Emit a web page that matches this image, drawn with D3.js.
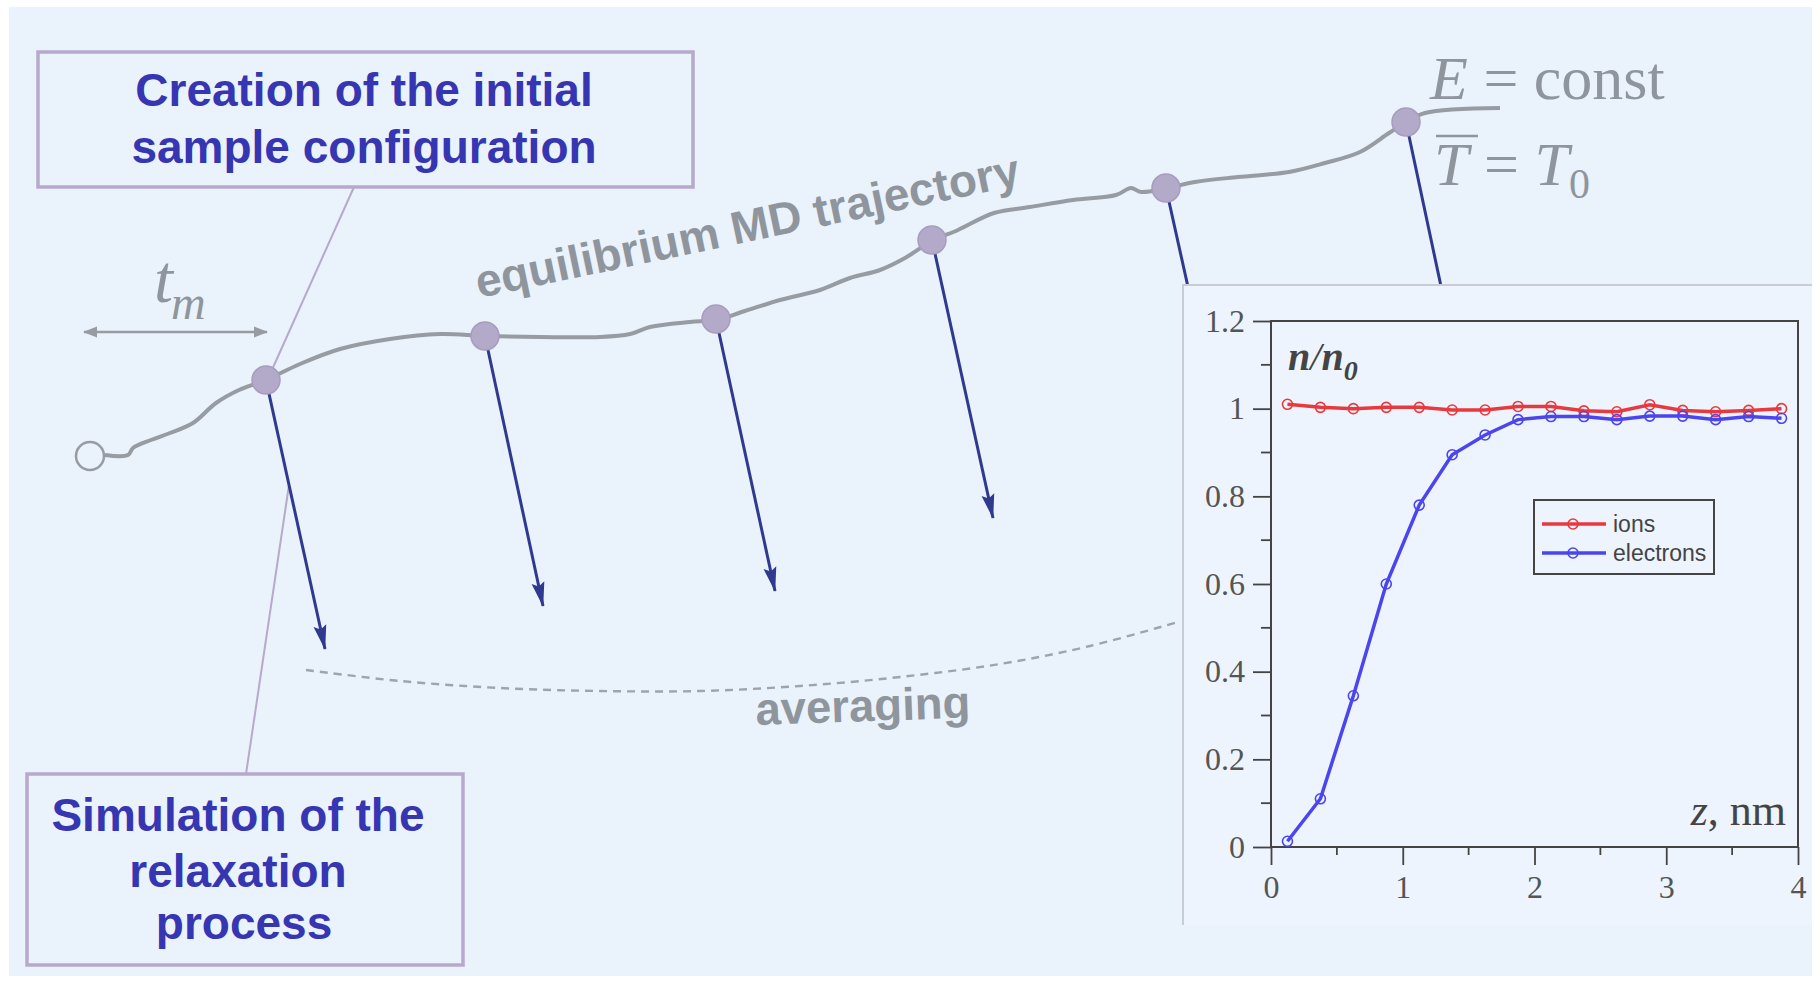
<!DOCTYPE html>
<html><head><meta charset="utf-8">
<script src="https://cdn.jsdelivr.net/npm/d3@7"></script>
<style>html,body{margin:0;padding:0;background:#fff;} svg{display:block;}</style>
</head><body>
<svg id="chart" width="1820" height="981"></svg>
<script>
// ---------- data ----------
// inset plot
const zValues = [0.125,0.375,0.625,0.875,1.125,1.375,1.625,1.875,2.125,2.375,2.625,2.875,3.125,3.375,3.625,3.875];
const ionsValues = [1.010,1.003,1.000,1.003,1.003,0.997,0.997,1.005,1.005,0.995,0.993,1.009,0.996,0.993,0.996,1.000];
const electronsValues = [0.013,0.110,0.345,0.600,0.780,0.895,0.940,0.975,0.982,0.982,0.975,0.983,0.983,0.975,0.982,0.978];
const xTickValues = [0,1,2,3,4];
const yTickValues = [0,0.2,0.4,0.6,0.8,1,1.2];
const yTickLabels = ["0","0.2","0.4","0.6","0.8","1","1.2"];
const seriesNames = ["ions","electrons"];
// diagram (trajectory in diagram units: time, level)
const trajectory = [[105,526],[128,526],[133,533],[151,541],[170,548],[193,558],[216,578],[239,591],[266,601],[300,617],[340,632],[390,642],[440,647],[485,645],[540,644],[600,644],[630,647],[650,654],[690,659],[716,661],[745,670],[780,681],[820,691],[850,703],[880,711],[905,723],[932,740],[958,751],[994,768],[1030,774],[1073,781],[1116,786],[1131,793],[1141,789],[1167,793],[1195,799],[1238,804],[1289,809],[1325,818],[1360,829],[1389,848],[1406,859],[1425,868],[1500,873]];
const startPoint = [90,525];
const samplePoints = [[266,601],[485,645],[716,662],[932,741],[1166,793],[1406,859]];
const arrowTips = [[325,332],[543,375],[775,390],[993,463],[1226,523],[1478,521]];
const averagingCurve = [[306,311],[400,300],[500,293],[600,290],[700,290],[800,295],[900,304],[1000,317],[1090,335],[1178,359]];

// ---------- setup ----------
const svg = d3.select("#chart");
const W = 1820, H = 981;
const dx = d3.scaleLinear().domain([0, W]).range([0, W]);
const dy = d3.scaleLinear().domain([0, H]).range([H, 0]);

const BG = "#EAF2FC";
const GRAY = "#979CA3";
const TEXTGRAY = "#8F959D";
const NAVY = "#2F3A8F";
const BOXC = "#B6A9CB";
const BLUE_TXT = "#3636B2";

svg.append("rect").attr("x",9).attr("y",7).attr("width",1803).attr("height",969).attr("fill",BG);

const defs = svg.append("defs");
defs.append("marker").attr("id","navyHead").attr("markerUnits","userSpaceOnUse")
  .attr("viewBox","0 -7 26 14").attr("refX",24).attr("refY",0)
  .attr("markerWidth",26).attr("markerHeight",14).attr("orient","auto")
  .append("path").attr("d","M0,-6.5L25,0L0,6.5L4,0Z").attr("fill",NAVY);
defs.append("marker").attr("id","grayHead").attr("markerUnits","userSpaceOnUse")
  .attr("viewBox","0 -7 14 14").attr("refX",13).attr("refY",0)
  .attr("markerWidth",14).attr("markerHeight",14).attr("orient","auto-start-reverse")
  .append("path").attr("d","M0,-5.5L14,0L0,5.5Z").attr("fill",GRAY);

// callout lines
svg.append("line").attr("x1",354).attr("y1",187).attr("x2",271).attr("y2",372)
  .attr("stroke",BOXC).attr("stroke-width",2);
svg.append("line").attr("x1",289).attr("y1",485).attr("x2",246).attr("y2",774)
  .attr("stroke",BOXC).attr("stroke-width",2);

// boxes
svg.append("rect").attr("x",38).attr("y",52).attr("width",655).attr("height",135)
  .attr("fill","none").attr("stroke",BOXC).attr("stroke-width",3.5);
svg.append("rect").attr("x",27).attr("y",774).attr("width",436).attr("height",191)
  .attr("fill","none").attr("stroke",BOXC).attr("stroke-width",3.5);

const boxText = (x, y, s) => svg.append("text").attr("x",x).attr("y",y)
  .attr("text-anchor","middle").attr("font-family","Liberation Sans, Arial, sans-serif")
  .attr("font-weight","bold").attr("font-size",46).attr("fill",BLUE_TXT).text(s);
boxText(364,106,"Creation of the initial");
boxText(364,163,"sample configuration");
boxText(238,831,"Simulation of the");
boxText(238,887,"relaxation");
boxText(244,939,"process");

// t_m annotation
svg.append("line").attr("x1",84).attr("y1",332).attr("x2",267).attr("y2",332)
  .attr("stroke",GRAY).attr("stroke-width",2.5)
  .attr("marker-start","url(#grayHead)").attr("marker-end","url(#grayHead)");
const tm = svg.append("text").attr("x",154).attr("y",302)
  .attr("font-family","Liberation Serif, Times New Roman, serif").attr("font-style","italic")
  .attr("fill",TEXTGRAY);
tm.append("tspan").attr("font-size",68).text("t");
tm.append("tspan").attr("font-size",48).attr("dy",17).attr("dx",-2).text("m");

// averaging curve
svg.append("path").datum(averagingCurve)
  .attr("d", d3.line().x(d=>dx(d[0])).y(d=>dy(d[1])).curve(d3.curveCatmullRom))
  .attr("fill","none").attr("stroke","#9FA4AA").attr("stroke-width",2.4).attr("stroke-dasharray","8,6");
svg.append("text").attr("transform","translate(756,725) rotate(-2)")
  .attr("font-family","Liberation Sans, Arial, sans-serif").attr("font-weight","bold")
  .attr("font-size",45.5).attr("fill",TEXTGRAY).text("averaging");

// trajectory label
svg.append("text").attr("transform","translate(479,298) rotate(-11.8)")
  .attr("font-family","Liberation Sans, Arial, sans-serif").attr("font-weight","bold")
  .attr("font-size",46).attr("fill",TEXTGRAY).text("equilibrium MD trajectory");

// arrows
svg.selectAll("line.arr").data(samplePoints).enter().append("line").attr("class","arr")
  .attr("x1",d=>dx(d[0])).attr("y1",d=>dy(d[1]))
  .attr("x2",(d,i)=>dx(arrowTips[i][0])).attr("y2",(d,i)=>dy(arrowTips[i][1]))
  .attr("stroke",NAVY).attr("stroke-width",3).attr("marker-end","url(#navyHead)");

// trajectory
svg.append("path").datum(trajectory)
  .attr("d", d3.line().x(d=>dx(d[0])).y(d=>dy(d[1])).curve(d3.curveCatmullRom))
  .attr("fill","none").attr("stroke",GRAY).attr("stroke-width",4).attr("stroke-linejoin","round");
svg.append("circle").attr("cx",dx(startPoint[0])).attr("cy",dy(startPoint[1])).attr("r",14)
  .attr("fill",BG).attr("stroke",GRAY).attr("stroke-width",2.5);
svg.selectAll("circle.sp").data(samplePoints).enter().append("circle").attr("class","sp")
  .attr("cx",d=>dx(d[0])).attr("cy",d=>dy(d[1])).attr("r",14)
  .attr("fill","#B3A9C9").attr("stroke","#A79DBE").attr("stroke-width",1.5);

// E = const, T = T0
const serif = "Liberation Serif, Times New Roman, serif";
const e1 = svg.append("text").attr("x",1430).attr("y",99).attr("font-family",serif)
  .attr("font-size",62).attr("fill",TEXTGRAY);
e1.append("tspan").attr("font-style","italic").text("E");
e1.append("tspan").text(" = const");
const e2 = svg.append("text").attr("x",1434).attr("y",185).attr("font-family",serif)
  .attr("font-size",62).attr("fill",TEXTGRAY);
e2.append("tspan").attr("font-style","italic").text("T");
e2.append("tspan").text(" = ");
e2.append("tspan").attr("font-style","italic").text("T");
e2.append("tspan").attr("font-size",42).attr("dy",13).text("0");
svg.append("line").attr("x1",1436).attr("x2",1478).attr("y1",136).attr("y2",136)
  .attr("stroke",TEXTGRAY).attr("stroke-width",2.5);

// ---------- inset ----------
svg.append("rect").attr("x",1183).attr("y",285).attr("width",629).attr("height",640).attr("fill","#EDF4FD");
svg.append("path").attr("d","M1183,925V285H1812").attr("fill","none").attr("stroke","#C8CDD5").attr("stroke-width",2);

const x = d3.scaleLinear().domain([0,4]).range([1271,1798]);
const y = d3.scaleLinear().domain([0,1.2]).range([847,321]);
const AX = "#444";
const g = svg.append("g");

// minor ticks
const yMinor = d3.range(0.1,1.2,0.2);
const xMinor = d3.range(0.5,4,1);
g.selectAll("line.ym").data(yMinor).enter().append("line")
  .attr("x1",x(0)-10).attr("x2",x(0)).attr("y1",d=>y(d)).attr("y2",d=>y(d)).attr("stroke",AX).attr("stroke-width",1.8);
g.selectAll("line.xm").data(xMinor).enter().append("line")
  .attr("x1",d=>x(d)).attr("x2",d=>x(d)).attr("y1",y(0)).attr("y2",y(0)+8).attr("stroke",AX).attr("stroke-width",1.8);

const yAxis = d3.axisLeft(y).tickValues(yTickValues).tickFormat((d,i)=>yTickLabels[i]).tickSize(18).tickPadding(8);
const xAxis = d3.axisBottom(x).tickValues(xTickValues).tickFormat(d3.format("d")).tickSize(18).tickPadding(10);
const ya = g.append("g").attr("transform",`translate(${x(0)},0)`).call(yAxis);
const xa = g.append("g").attr("transform",`translate(0,${y(0)})`).call(xAxis);
[ya,xa].forEach(a=>{
  a.select(".domain").remove();
  a.selectAll(".tick line").attr("stroke",AX).attr("stroke-width",1.8);
  a.selectAll(".tick text").attr("font-family",serif).attr("font-size",32).attr("fill","#555");
});
// frame
g.append("rect").attr("x",x(0)).attr("y",y(1.2)).attr("width",x(4)-x(0)).attr("height",y(0)-y(1.2))
  .attr("fill","none").attr("stroke",AX).attr("stroke-width",2);

const colors = {ions:"#E8393E", electrons:"#4B45F0"};
const seriesData = {ions: ionsValues, electrons: electronsValues};
const line = d3.line().x(d=>x(d[0])).y(d=>y(d[1]));
seriesNames.forEach(name=>{
  const pts = zValues.map((z,i)=>[z, seriesData[name][i]]);
  g.append("path").datum(pts).attr("d",line).attr("fill","none").attr("stroke",colors[name]).attr("stroke-width",3.5);
  g.selectAll("circle."+name).data(pts).enter().append("circle").attr("class",name)
    .attr("cx",d=>x(d[0])).attr("cy",d=>y(d[1])).attr("r",5).attr("fill","none")
    .attr("stroke",colors[name]).attr("stroke-width",1.6);
});

// axis labels
const nl = g.append("text").attr("x",1288).attr("y",370).attr("font-family",serif)
  .attr("font-style","italic").attr("font-weight","bold").attr("font-size",40).attr("fill","#444");
nl.append("tspan").text("n");
nl.append("tspan").attr("font-weight","normal").text("/");
nl.append("tspan").text("n");
nl.append("tspan").attr("font-size",28).attr("dy",10).text("0");
const zl = g.append("text").attr("x",1786).attr("y",825).attr("text-anchor","end").attr("font-family",serif)
  .attr("font-size",44).attr("fill","#444");
zl.append("tspan").attr("font-style","italic").text("z");
zl.append("tspan").text(", nm");

// legend
const lg = g.append("g");
lg.append("rect").attr("x",1534).attr("y",500).attr("width",180).attr("height",74)
  .attr("fill","none").attr("stroke",AX).attr("stroke-width",2);
seriesNames.forEach((name,i)=>{
  const yy = 524 + i*29;
  lg.append("line").attr("x1",1542).attr("x2",1606).attr("y1",yy).attr("y2",yy).attr("stroke",colors[name]).attr("stroke-width",3.5);
  lg.append("circle").attr("cx",1573).attr("cy",yy).attr("r",5).attr("fill","none").attr("stroke",colors[name]).attr("stroke-width",1.6);
  lg.append("text").attr("x",1613).attr("y",yy+8).attr("font-family","Liberation Sans, Arial, sans-serif")
    .attr("font-size",23).attr("fill","#444").text(name);
});
</script>
</body></html>
